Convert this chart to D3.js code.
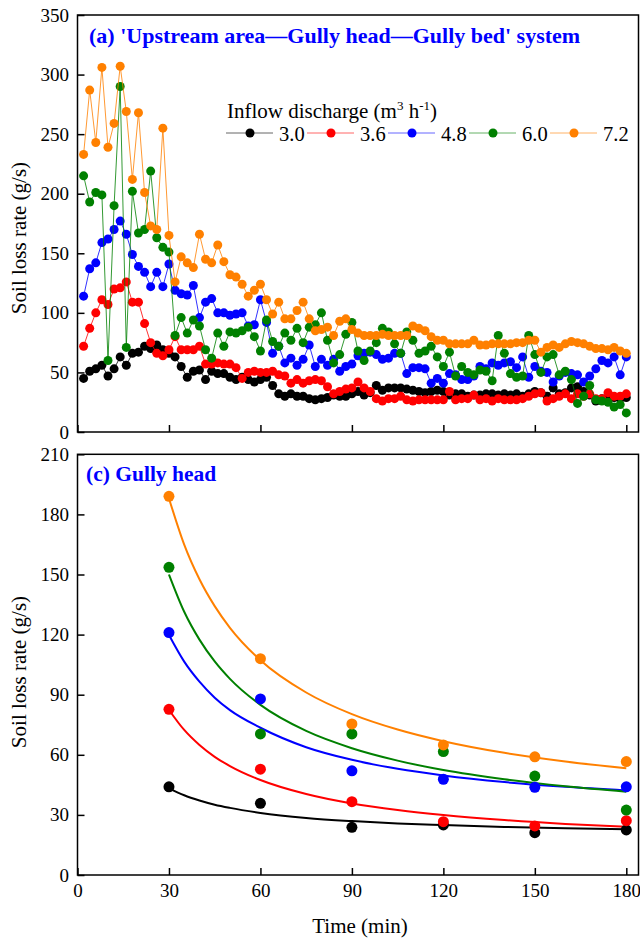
<!DOCTYPE html>
<html><head><meta charset="utf-8">
<script src="https://cdn.jsdelivr.net/npm/d3@7"></script>
<style>html,body{margin:0;padding:0;background:#fff}svg{display:block}</style>
</head><body>
<script>
// ---------- DATA ----------
const seriesNames = ["3.0","3.6","4.8","6.0","7.2"];
const seriesColors = ["#000000","#ff0000","#0000ff","#008000","#ff8000"];
const time = [2,4,6,8,10,12,14,16,18,20,22,24,26,28,30,32,34,36,38,40,42,44,46,48,50,52,54,56,58,60,
  62,64,66,68,70,72,74,76,78,80,82,84,86,88,90,92,94,96,98,100,102,104,106,108,110,112,114,116,118,120,
  122,124,126,128,130,132,134,136,138,140,142,144,146,148,150,152,154,156,158,160,162,164,166,168,170,172,174,176,178,180];
const q30 = [45,51,53,56,47,53,63,56,66,67, 72,70,73,69,66,63,55,46,51,52, 44,51,49,49,46,44,46,44,42,44,
  46,39,32,30,32,30,30,28,27,28, 29,31,30,30,32,34,31,33,39,35, 37,37,37,36,35,34,33,34,35,34,
  31,32,32,30,31,31,32,32,31,32, 31,32,30,32,34,33,30,37,32,33, 37,38,34,31,26,28,28,29,28,29];
const q36 = [72,87,100,111,107,120,121,126,109,109, 91,75,66,64,69,80,69,69,69,72, 57,57,58,57,57,54,45,50,51,50,
  50,51,48,47,41,44,41,43,44,43, 38,32,34,36,37,42,37,34,28,26, 28,28,30,27,26,27,27,27,27,27,
  34,27,28,28,31,27,28,26,28,27, 27,27,28,30,32,33,26,28,30,32, 28,32,30,32,28,28,33,30,30,32];
const q48 = [114,137,142,159,162,170,177,166,149,139, 134,122,134,122,141,119,116,115,123,96, 109,112,100,100,98,99,100,89,90,111,
  92,66,72,58,62,56,61,73,55,61, 56,61,51,55,57,64,66,67,65,61, 62,66,66,49,54,54,53,41,45,41,
  49,48,44,44,47,55,53,58,56,58, 59,54,63,46,55,51,50,42,47,50, 49,48,42,47,53,60,58,63,48,63];
const q60 = [215,193,201,199,60,190,290,71,202,167, 170,219,163,155,151,81,96,83,94,89, 69,62,83,72,84,83,85,88,80,68,
  94,76,72,83,77,87,75,88,90,100, 77,58,65,82,92,68,60,68,75,87, 84,74,66,84,77,66,68,72,63,55,
  67,47,55,50,48,52,51,43,81,66, 49,46,47,81,65,50,63,65,48,51, 44,24,30,39,27,26,25,21,23,16];
const q72 = [233,287,243,306,239,259,307,269,212,268, 201,173,170,255,165,126,147,142,138,166, 145,142,157,143,132,130,124,114,119,124,
  111,99,109,95,95,102,109,95,85,86, 88,81,93,95,86,83,81,81,81,82, 81,81,81,81,89,87,85,80,77,77,
  74,74,74,74,77,73,73,74,74,74, 74,75,75,77,77,67,71,73,71,74, 76,75,74,72,70,70,69,71,68,66];
const topSeries = [q30,q36,q48,q60,q72];

// Panel (c) measured points
const headTime = [30,60,90,120,150,180];
const head30 = [44,35.8,23.8,25,21.1,22.5];
const head36 = [82.7,52.8,36.6,26.6,24.5,27.1];
const head48 = [121,87.9,52,47.8,43.8,44];
const head60 = [153.6,70.4,70.4,61.6,49.4,32.4];
const head72 = [189,108,75.4,64.9,59,56.6];
const headSeries = [head30,head36,head48,head60,head72];
// Panel (c) fitted trend curves
const fitTime = [30,35,40,45,50,60,75,90,105,120,140,160,180];
const fit30 = [43.3,39.8,37.2,35.1,33.5,31.0,28.5,26.9,25.7,24.9,24.0,23.3,22.8];
const fit36 = [82.4,72.4,64.9,59.0,54.4,47.4,40.4,35.7,32.4,29.9,27.4,25.5,24.1];
const fit48 = [119.8,106.5,96.5,88.5,82.3,73.5,63.8,57.5,53.0,49.7,46.4,44.0,42.2];
const fit60 = [150.0,131.4,117.5,106.6,97.9,84.9,71.9,63.3,57.1,52.4,47.8,44.3,41.6];
const fit72 = [188.0,164.9,147.6,134.2,123.4,107.2,91.1,80.3,72.6,66.8,61.0,56.7,53.3];
const fitSeries = [fit30,fit36,fit48,fit60,fit72];

const topYTicks = [0,50,100,150,200,250,300,350];
const botYTicks = [0,30,60,90,120,150,180,210];
const xTicks = [0,30,60,90,120,150,180];

// ---------- DRAW ----------
const W = 640, H = 944;
const svg = d3.select("body").append("svg").attr("width", W).attr("height", H);
const serif = "'Liberation Serif','Times New Roman',serif";

const x = d3.scaleLinear().domain([0,184]).range([77.5,638.5]);
const yTop = d3.scaleLinear().domain([0,350]).range([432,15]);
const yBot = d3.scaleLinear().domain([0,210]).range([875,454.3]);

function styleAxis(g){
  g.select(".domain").remove();
  g.selectAll(".tick line").attr("stroke","#000").attr("stroke-width",1.5);
  g.selectAll("text").attr("font-family",serif).attr("font-size",19).attr("fill","#000");
}

// top panel axes
svg.append("g").attr("transform",`translate(${x(0)},0)`)
  .call(d3.axisLeft(yTop).tickValues(topYTicks).tickSizeInner(-7).tickSizeOuter(0).tickPadding(8.5))
  .call(styleAxis);
svg.append("g").attr("transform",`translate(0,${yTop(0)})`)
  .call(d3.axisBottom(x).tickValues(xTicks).tickSizeInner(-7).tickSizeOuter(0).tickFormat(""))
  .call(styleAxis);
// bottom panel axes
svg.append("g").attr("transform",`translate(${x(0)},0)`)
  .call(d3.axisLeft(yBot).tickValues(botYTicks).tickSizeInner(-7).tickSizeOuter(0).tickPadding(8.5))
  .call(styleAxis);
svg.append("g").attr("transform",`translate(0,${yBot(0)})`)
  .call(d3.axisBottom(x).tickValues(xTicks).tickSizeInner(-7).tickSizeOuter(0).tickPadding(9))
  .call(styleAxis);

// frames
svg.append("rect").attr("x",x(0)).attr("y",yTop(350)).attr("width",x(184)-x(0)).attr("height",yTop(0)-yTop(350))
  .attr("fill","none").attr("stroke","#000").attr("stroke-width",1.5);
svg.append("rect").attr("x",x(0)).attr("y",yBot(210)).attr("width",x(184)-x(0)).attr("height",yBot(0)-yBot(210))
  .attr("fill","none").attr("stroke","#000").attr("stroke-width",1.5);

// top panel series
const lineTop = d3.line().x((d,i)=>x(time[i])).y(d=>yTop(d));
topSeries.forEach((s,k)=>{
  const g = svg.append("g");
  g.append("path").attr("d",lineTop(s)).attr("fill","none")
    .attr("stroke",seriesColors[k]).attr("stroke-width",1).attr("stroke-opacity",0.8);
  g.selectAll("circle").data(s).join("circle")
    .attr("cx",(d,i)=>x(time[i])).attr("cy",d=>yTop(d)).attr("r",4.5).attr("fill",seriesColors[k]);
});

// bottom panel fitted curves + points
const lineFit = d3.line().x((d,i)=>x(fitTime[i])).y(d=>yBot(d)).curve(d3.curveMonotoneX);
fitSeries.forEach((s,k)=>{
  svg.append("path").attr("d",lineFit(s)).attr("fill","none")
    .attr("stroke",seriesColors[k]).attr("stroke-width",2);
});
headSeries.forEach((s,k)=>{
  svg.append("g").selectAll("circle").data(s).join("circle")
    .attr("cx",(d,i)=>x(headTime[i])).attr("cy",d=>yBot(d)).attr("r",5.5).attr("fill",seriesColors[k]);
});

// titles
svg.append("text").attr("x",89).attr("y",43).attr("font-family",serif).attr("font-weight","bold")
  .attr("font-size",22).attr("fill","#0000ff").text("(a) 'Upstream area\u2014Gully head\u2014Gully bed' system");
svg.append("text").attr("x",86).attr("y",481).attr("font-family",serif).attr("font-weight","bold")
  .attr("font-size",21.5).attr("fill","#0000ff").text("(c) Gully head");

// axis titles
svg.append("text").attr("transform","translate(25.5,238) rotate(-90)").attr("text-anchor","middle")
  .attr("font-family",serif).attr("font-size",21).text("Soil loss rate (g/s)");
svg.append("text").attr("transform","translate(25.5,672) rotate(-90)").attr("text-anchor","middle")
  .attr("font-family",serif).attr("font-size",21).text("Soil loss rate (g/s)");
svg.append("text").attr("x",360).attr("y",933).attr("text-anchor","middle")
  .attr("font-family",serif).attr("font-size",21).text("Time (min)");

// legend
const lt = svg.append("text").attr("x",227).attr("y",118).attr("font-family",serif).attr("font-size",21);
lt.append("tspan").text("Inflow discharge (m");
lt.append("tspan").attr("font-size",13).attr("dy",-8).text("3");
lt.append("tspan").attr("dy",8).text(" h");
lt.append("tspan").attr("font-size",13).attr("dy",-8).text("-1");
lt.append("tspan").attr("dy",8).text(")");
const legX = [226,307,388,469,550];
seriesNames.forEach((n,k)=>{
  const g = svg.append("g");
  g.append("line").attr("x1",legX[k]).attr("x2",legX[k]+47).attr("y1",133).attr("y2",133)
    .attr("stroke",seriesColors[k]).attr("stroke-width",1).attr("stroke-opacity",0.6);
  g.append("circle").attr("cx",legX[k]+24).attr("cy",133).attr("r",4.5).attr("fill",seriesColors[k]);
  g.append("text").attr("x",legX[k]+53).attr("y",141).attr("font-family",serif).attr("font-size",20.5).text(n);
});
</script>
</body></html>
